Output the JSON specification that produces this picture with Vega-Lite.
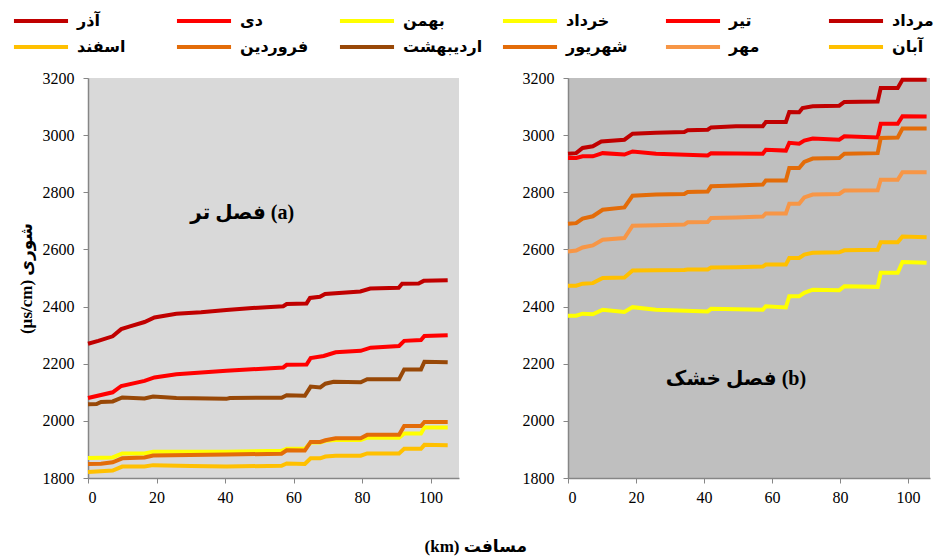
{
  "$schema": "https://vega.github.io/schema/vega-lite/v6.json",
  "padding": {"left": 17, "top": 13, "right": 5, "bottom": 5},
  "background": "white",
  "datasets": {
    "wet": [
      {"s":"آذر","x":0,"y":2270},{"s":"آذر","x":3,"y":2280},{"s":"آذر","x":7.2,"y":2296},{"s":"آذر","x":9.7,"y":2321},{"s":"آذر","x":12,"y":2330},{"s":"آذر","x":16.5,"y":2346},{"s":"آذر","x":19.4,"y":2362},{"s":"آذر","x":25.8,"y":2375},{"s":"آذر","x":33,"y":2380},{"s":"آذر","x":40.4,"y":2388},{"s":"آذر","x":48,"y":2395},{"s":"آذر","x":57,"y":2401},{"s":"آذر","x":58,"y":2409},{"s":"آذر","x":63.8,"y":2411},{"s":"آذر","x":64.8,"y":2430},{"s":"آذر","x":67.7,"y":2434},{"s":"آذر","x":69.2,"y":2444},{"s":"آذر","x":79.5,"y":2453},{"s":"آذر","x":82.4,"y":2463},{"s":"آذر","x":90.7,"y":2466},{"s":"آذر","x":91.7,"y":2480},{"s":"آذر","x":96.5,"y":2481},{"s":"آذر","x":98,"y":2490},{"s":"آذر","x":105,"y":2492},
      {"s":"دی","x":0,"y":2080},{"s":"دی","x":7.2,"y":2100},{"s":"دی","x":9.7,"y":2122},{"s":"دی","x":16.5,"y":2140},{"s":"دی","x":19.4,"y":2152},{"s":"دی","x":25.8,"y":2163},{"s":"دی","x":40.4,"y":2175},{"s":"دی","x":57,"y":2187},{"s":"دی","x":58,"y":2196},{"s":"دی","x":63.8,"y":2197},{"s":"دی","x":65,"y":2220},{"s":"دی","x":68.8,"y":2227},{"s":"دی","x":72.3,"y":2240},{"s":"دی","x":79.6,"y":2245},{"s":"دی","x":82.5,"y":2256},{"s":"دی","x":90.8,"y":2262},{"s":"دی","x":92.3,"y":2280},{"s":"دی","x":97.2,"y":2283},{"s":"دی","x":98.2,"y":2297},{"s":"دی","x":105,"y":2300},
      {"s":"اردیبهشت","x":0,"y":2058},{"s":"اردیبهشت","x":2.5,"y":2059},{"s":"اردیبهشت","x":3.8,"y":2066},{"s":"اردیبهشت","x":7.2,"y":2068},{"s":"اردیبهشت","x":10,"y":2082},{"s":"اردیبهشت","x":16.5,"y":2078},{"s":"اردیبهشت","x":19,"y":2085},{"s":"اردیبهشت","x":25.8,"y":2080},{"s":"اردیبهشت","x":40.4,"y":2077},{"s":"اردیبهشت","x":41.4,"y":2080},{"s":"اردیبهشت","x":56.5,"y":2081},{"s":"اردیبهشت","x":58,"y":2090},{"s":"اردیبهشت","x":63.3,"y":2088},{"s":"اردیبهشت","x":65,"y":2120},{"s":"اردیبهشت","x":67.8,"y":2117},{"s":"اردیبهشت","x":69.3,"y":2130},{"s":"اردیبهشت","x":71.7,"y":2137},{"s":"اردیبهشت","x":79.6,"y":2135},{"s":"اردیبهشت","x":81.5,"y":2146},{"s":"اردیبهشت","x":90.8,"y":2146},{"s":"اردیبهشت","x":92.3,"y":2180},{"s":"اردیبهشت","x":97.2,"y":2180},{"s":"اردیبهشت","x":98.2,"y":2207},{"s":"اردیبهشت","x":105,"y":2205},
      {"s":"بهمن","x":0,"y":1870},{"s":"بهمن","x":7.2,"y":1872},{"s":"بهمن","x":10,"y":1886},{"s":"بهمن","x":16.5,"y":1886},{"s":"بهمن","x":19,"y":1892},{"s":"بهمن","x":40.4,"y":1892},{"s":"بهمن","x":56.5,"y":1895},{"s":"بهمن","x":58,"y":1902},{"s":"بهمن","x":63.3,"y":1902},{"s":"بهمن","x":65,"y":1924},{"s":"بهمن","x":67.8,"y":1924},{"s":"بهمن","x":69.3,"y":1930},{"s":"بهمن","x":72.3,"y":1933},{"s":"بهمن","x":79.6,"y":1933},{"s":"بهمن","x":81.5,"y":1941},{"s":"بهمن","x":90.8,"y":1941},{"s":"بهمن","x":92.3,"y":1956},{"s":"بهمن","x":97.2,"y":1956},{"s":"بهمن","x":98.2,"y":1977},{"s":"بهمن","x":105,"y":1977},
      {"s":"فروردین","x":0,"y":1849},{"s":"فروردین","x":3.8,"y":1850},{"s":"فروردین","x":7.2,"y":1855},{"s":"فروردین","x":10,"y":1869},{"s":"فروردین","x":16.5,"y":1872},{"s":"فروردین","x":19,"y":1879},{"s":"فروردین","x":40.4,"y":1882},{"s":"فروردین","x":56.5,"y":1885},{"s":"فروردین","x":58,"y":1897},{"s":"فروردین","x":63.3,"y":1896},{"s":"فروردین","x":65,"y":1926},{"s":"فروردین","x":67.8,"y":1926},{"s":"فروردین","x":69.3,"y":1932},{"s":"فروردین","x":72.3,"y":1939},{"s":"فروردین","x":79.6,"y":1939},{"s":"فروردین","x":81.5,"y":1951},{"s":"فروردین","x":90.8,"y":1951},{"s":"فروردین","x":92.3,"y":1982},{"s":"فروردین","x":97.2,"y":1982},{"s":"فروردین","x":98.2,"y":1996},{"s":"فروردین","x":105,"y":1996},
      {"s":"اسفند","x":0,"y":1821},{"s":"اسفند","x":7.2,"y":1826},{"s":"اسفند","x":10,"y":1840},{"s":"اسفند","x":16.5,"y":1840},{"s":"اسفند","x":19,"y":1845},{"s":"اسفند","x":30,"y":1842},{"s":"اسفند","x":40.4,"y":1840},{"s":"اسفند","x":56.5,"y":1843},{"s":"اسفند","x":58,"y":1851},{"s":"اسفند","x":63.3,"y":1849},{"s":"اسفند","x":65,"y":1869},{"s":"اسفند","x":67.8,"y":1869},{"s":"اسفند","x":69.3,"y":1875},{"s":"اسفند","x":72.3,"y":1878},{"s":"اسفند","x":79.6,"y":1878},{"s":"اسفند","x":81.5,"y":1886},{"s":"اسفند","x":90.8,"y":1886},{"s":"اسفند","x":92.3,"y":1902},{"s":"اسفند","x":97.2,"y":1902},{"s":"اسفند","x":98.2,"y":1916},{"s":"اسفند","x":105,"y":1915}
    ],
    "dry": [
      {"s":"مرداد","x":0,"y":2935},{"s":"مرداد","x":2.4,"y":2937},{"s":"مرداد","x":4.3,"y":2955},{"s":"مرداد","x":7.3,"y":2961},{"s":"مرداد","x":9.8,"y":2978},{"s":"مرداد","x":16.6,"y":2984},{"s":"مرداد","x":19,"y":3005},{"s":"مرداد","x":25.9,"y":3008},{"s":"مرداد","x":34.2,"y":3011},{"s":"مرداد","x":35.2,"y":3017},{"s":"مرداد","x":41.1,"y":3019},{"s":"مرداد","x":42.1,"y":3027},{"s":"مرداد","x":49.4,"y":3031},{"s":"مرداد","x":57.3,"y":3031},{"s":"مرداد","x":58.2,"y":3046},{"s":"مرداد","x":64.1,"y":3046},{"s":"مرداد","x":65.1,"y":3081},{"s":"مرداد","x":68,"y":3080},{"s":"مرداد","x":69,"y":3095},{"s":"مرداد","x":72,"y":3101},{"s":"مرداد","x":79.8,"y":3103},{"s":"مرداد","x":81.3,"y":3116},{"s":"مرداد","x":91.1,"y":3118},{"s":"مرداد","x":92,"y":3165},{"s":"مرداد","x":97,"y":3165},{"s":"مرداد","x":98.4,"y":3194},{"s":"مرداد","x":105.5,"y":3194},
      {"s":"تیر","x":0,"y":2920},{"s":"تیر","x":2.4,"y":2920},{"s":"تیر","x":4.3,"y":2926},{"s":"تیر","x":7.3,"y":2926},{"s":"تیر","x":10.2,"y":2937},{"s":"تیر","x":16.6,"y":2932},{"s":"تیر","x":19,"y":2943},{"s":"تیر","x":25.9,"y":2935},{"s":"تیر","x":41.1,"y":2929},{"s":"تیر","x":42.1,"y":2937},{"s":"تیر","x":57.3,"y":2935},{"s":"تیر","x":58.2,"y":2949},{"s":"تیر","x":64.1,"y":2946},{"s":"تیر","x":65.1,"y":2973},{"s":"تیر","x":68,"y":2970},{"s":"تیر","x":69.5,"y":2981},{"s":"تیر","x":72,"y":2988},{"s":"تیر","x":79.8,"y":2984},{"s":"تیر","x":81.3,"y":2996},{"s":"تیر","x":91.1,"y":2992},{"s":"تیر","x":92,"y":3040},{"s":"تیر","x":97,"y":3040},{"s":"تیر","x":98.4,"y":3066},{"s":"تیر","x":105.5,"y":3065},
      {"s":"شهریور","x":0,"y":2690},{"s":"شهریور","x":2.4,"y":2692},{"s":"شهریور","x":4.3,"y":2708},{"s":"شهریور","x":7.3,"y":2716},{"s":"شهریور","x":10.2,"y":2739},{"s":"شهریور","x":16.6,"y":2747},{"s":"شهریور","x":19,"y":2788},{"s":"شهریور","x":25.9,"y":2792},{"s":"شهریور","x":34.2,"y":2794},{"s":"شهریور","x":35.2,"y":2801},{"s":"شهریور","x":41.1,"y":2803},{"s":"شهریور","x":42.1,"y":2821},{"s":"شهریور","x":49.4,"y":2824},{"s":"شهریور","x":57.3,"y":2827},{"s":"شهریور","x":58.2,"y":2841},{"s":"شهریور","x":64.1,"y":2841},{"s":"شهریور","x":65.1,"y":2885},{"s":"شهریور","x":68,"y":2885},{"s":"شهریور","x":69.5,"y":2906},{"s":"شهریور","x":72,"y":2918},{"s":"شهریور","x":79.8,"y":2920},{"s":"شهریور","x":81.3,"y":2935},{"s":"شهریور","x":91.1,"y":2937},{"s":"شهریور","x":92,"y":2990},{"s":"شهریور","x":97,"y":2992},{"s":"شهریور","x":98.4,"y":3023},{"s":"شهریور","x":105.5,"y":3023},
      {"s":"مهر","x":0,"y":2593},{"s":"مهر","x":2.4,"y":2596},{"s":"مهر","x":4.3,"y":2607},{"s":"مهر","x":7.3,"y":2614},{"s":"مهر","x":10.2,"y":2634},{"s":"مهر","x":16.6,"y":2640},{"s":"مهر","x":19,"y":2683},{"s":"مهر","x":25.9,"y":2685},{"s":"مهر","x":34.2,"y":2687},{"s":"مهر","x":35.2,"y":2695},{"s":"مهر","x":41.1,"y":2696},{"s":"مهر","x":42.1,"y":2710},{"s":"مهر","x":49.4,"y":2712},{"s":"مهر","x":57.3,"y":2715},{"s":"مهر","x":58.2,"y":2726},{"s":"مهر","x":64.1,"y":2726},{"s":"مهر","x":65.1,"y":2760},{"s":"مهر","x":68,"y":2760},{"s":"مهر","x":69.5,"y":2782},{"s":"مهر","x":72,"y":2792},{"s":"مهر","x":79.8,"y":2794},{"s":"مهر","x":81.3,"y":2806},{"s":"مهر","x":91.1,"y":2807},{"s":"مهر","x":92,"y":2844},{"s":"مهر","x":97,"y":2844},{"s":"مهر","x":98.4,"y":2870},{"s":"مهر","x":105.5,"y":2870},
      {"s":"آبان","x":0,"y":2473},{"s":"آبان","x":2.4,"y":2473},{"s":"آبان","x":4.3,"y":2480},{"s":"آبان","x":7.3,"y":2482},{"s":"آبان","x":10.2,"y":2500},{"s":"آبان","x":16.6,"y":2502},{"s":"آبان","x":19,"y":2526},{"s":"آبان","x":25.9,"y":2527},{"s":"آبان","x":34.2,"y":2528},{"s":"آبان","x":35.2,"y":2530},{"s":"آبان","x":41.1,"y":2530},{"s":"آبان","x":42.1,"y":2537},{"s":"آبان","x":49.4,"y":2538},{"s":"آبان","x":57.3,"y":2540},{"s":"آبان","x":58.2,"y":2547},{"s":"آبان","x":64.1,"y":2547},{"s":"آبان","x":65.1,"y":2570},{"s":"آبان","x":68,"y":2570},{"s":"آبان","x":69.5,"y":2582},{"s":"آبان","x":72,"y":2588},{"s":"آبان","x":79.8,"y":2590},{"s":"آبان","x":81.3,"y":2597},{"s":"آبان","x":91.1,"y":2599},{"s":"آبان","x":92,"y":2625},{"s":"آبان","x":97,"y":2625},{"s":"آبان","x":98.4,"y":2645},{"s":"آبان","x":105.5,"y":2643},
      {"s":"خرداد","x":0,"y":2368},{"s":"خرداد","x":2.4,"y":2368},{"s":"خرداد","x":4.3,"y":2375},{"s":"خرداد","x":7.3,"y":2373},{"s":"خرداد","x":10.2,"y":2389},{"s":"خرداد","x":16.6,"y":2381},{"s":"خرداد","x":19,"y":2398},{"s":"خرداد","x":25.9,"y":2389},{"s":"خرداد","x":41.1,"y":2383},{"s":"خرداد","x":42.1,"y":2392},{"s":"خرداد","x":57.3,"y":2389},{"s":"خرداد","x":58.2,"y":2401},{"s":"خرداد","x":64.1,"y":2397},{"s":"خرداد","x":65.1,"y":2436},{"s":"خرداد","x":68,"y":2436},{"s":"خرداد","x":69.5,"y":2448},{"s":"خرداد","x":72,"y":2459},{"s":"خرداد","x":79.8,"y":2457},{"s":"خرداد","x":81.3,"y":2471},{"s":"خرداد","x":91.1,"y":2469},{"s":"خرداد","x":92,"y":2518},{"s":"خرداد","x":97,"y":2518},{"s":"خرداد","x":98.4,"y":2556},{"s":"خرداد","x":105.5,"y":2553}
    ]
  },
  "title": {"text": "(km)  مسافت", "orient": "bottom", "anchor": "middle", "font": "Liberation Serif, DejaVu Sans", "fontSize": 17, "fontWeight": "bold", "color": "black", "offset": 34},
  "spacing": 63,
  "resolve": {"scale": {"color": "shared", "x": "independent", "y": "independent"}, "legend": {"color": "shared"}},
  "hconcat": [
    {
      "width": 371, "height": 400,
      "view": {"fill": "#D9D9D9", "stroke": null},
      "layer": [
        {
          "data": {"name": "wet"},
          "mark": {"type": "line", "strokeWidth": 4},
          "encoding": {
            "x": {"field": "x", "type": "quantitative", "scale": {"domain": [0, 108.3], "nice": false}, "axis": {"values": [0, 20, 40, 60, 80, 100], "title": null}},
            "y": {"field": "y", "type": "quantitative", "scale": {"domain": [1800, 3200], "nice": false}, "axis": {"values": [1800, 2000, 2200, 2400, 2600, 2800, 3000, 3200], "format": "d", "title": "(µs/cm)  شوری", "titleFont": "Liberation Serif, DejaVu Sans", "titleFontSize": 17, "titleFontWeight": "bold", "titleColor": "black", "titlePadding": 7}},
            "color": {"field": "s", "type": "nominal",
              "scale": {"domain": ["آذر","دی","بهمن","خرداد","تیر","مرداد","اسفند","فروردین","اردیبهشت","شهریور","مهر","آبان"],
                        "range": ["#C00000","#FF0000","#FFFF00","#FFFF00","#FF0000","#C00000","#FFC000","#E36C09","#984807","#E36C09","#F79646","#FFC000"]},
              "legend": {"orient": "none", "legendX": -55, "legendY": -65, "direction": "horizontal", "columns": 6, "title": null, "symbolType": "M-5,0H5", "symbolSize": 117, "symbolStrokeWidth": 4, "labelFont": "DejaVu Sans", "labelFontWeight": "bold", "labelFontSize": 16, "labelColor": "black", "labelOffset": 28, "columnPadding": 11, "rowPadding": 10, "gridAlign": "all", "labelLimit": 200}}
          }
        },
        {
          "data": {"values": [{"t": "فصل تر (a)"}]},
          "mark": {"type": "text", "font": "Liberation Serif, DejaVu Sans", "fontSize": 20, "fontWeight": "bold", "color": "black"},
          "encoding": {"x": {"datum": 45}, "y": {"datum": 2727}, "text": {"field": "t"}}
        }
      ]
    },
    {
      "width": 362, "height": 400,
      "view": {"fill": "#BFBFBF", "stroke": null},
      "layer": [
        {
          "data": {"name": "dry"},
          "mark": {"type": "line", "strokeWidth": 4},
          "encoding": {
            "x": {"field": "x", "type": "quantitative", "scale": {"domain": [0, 106.5], "nice": false}, "axis": {"values": [0, 20, 40, 60, 80, 100], "title": null}},
            "y": {"field": "y", "type": "quantitative", "scale": {"domain": [1800, 3200], "nice": false}, "axis": {"values": [1800, 2000, 2200, 2400, 2600, 2800, 3000, 3200], "format": "d", "title": null}},
            "color": {"field": "s", "type": "nominal",
              "scale": {"domain": ["آذر","دی","بهمن","خرداد","تیر","مرداد","اسفند","فروردین","اردیبهشت","شهریور","مهر","آبان"],
                        "range": ["#C00000","#FF0000","#FFFF00","#FFFF00","#FF0000","#C00000","#FFC000","#E36C09","#984807","#E36C09","#F79646","#FFC000"]}}
          }
        },
        {
          "data": {"values": [{"t": "فصل خشک (b)"}]},
          "mark": {"type": "text", "font": "Liberation Serif, DejaVu Sans", "fontSize": 20, "fontWeight": "bold", "color": "black"},
          "encoding": {"x": {"datum": 49.4}, "y": {"datum": 2146}, "text": {"field": "t"}}
        }
      ]
    }
  ],
  "config": {
    "axis": {"grid": false, "domainColor": "#868686", "tickColor": "#868686", "domainWidth": 1.5, "tickSize": 5, "labelFont": "Liberation Serif", "labelFontSize": 16, "labelColor": "black", "labelPadding": 6},
    "axisY": {"labelPadding": 9},
    "legend": {"padding": 0}
  }
}
